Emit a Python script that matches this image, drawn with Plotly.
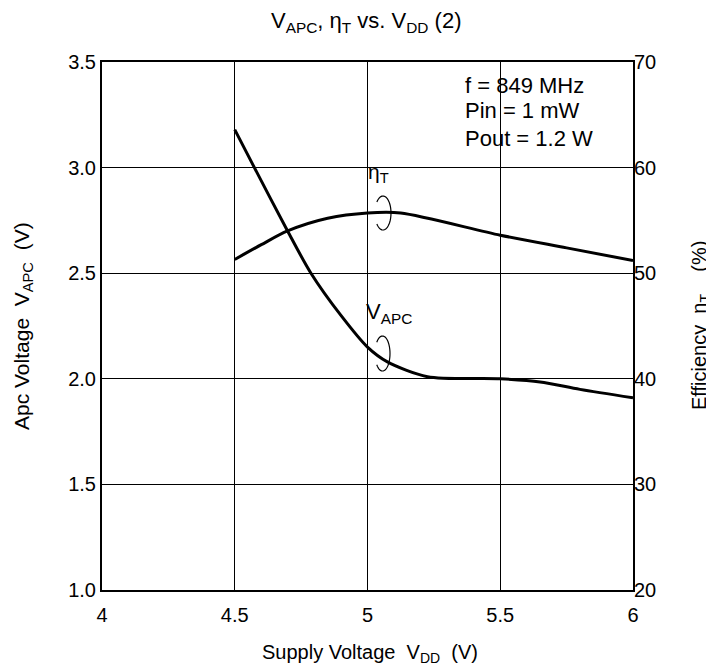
import math
import plotly.graph_objects as go

# ---- data ----
vdd_apc = [4.5, 4.574, 4.699, 4.787, 4.9, 5.0, 5.075, 5.226, 5.5, 5.65, 5.8, 6.0]
v_apc = [3.18, 3.0, 2.70, 2.5, 2.30, 2.15, 2.08, 2.01, 2.0, 1.985, 1.95, 1.91]

vdd_eff = [4.5, 4.6, 4.699, 4.85, 5.0, 5.125, 5.5, 5.75, 6.0]
eff = [51.3, 52.7, 54.0, 55.2, 55.7, 55.7, 53.6, 52.4, 51.2]

x_ticks = [4, 4.5, 5, 5.5, 6]
x_tick_text = ["4", "4.5", "5", "5.5", "6"]
y_ticks = [1.0, 1.5, 2.0, 2.5, 3.0, 3.5]
y_tick_text = ["1.0", "1.5", "2.0", "2.5", "3.0", "3.5"]
y2_ticks = [20, 30, 40, 50, 60, 70]

FONT = "Liberation Sans, Arial, Helvetica, sans-serif"
W, H = 714, 671
L, R, T, B = 94, 89, 54, 89
PW, PH = W - L - R, H - T - B
NB = "\u00a0"


def px(xp):
    return (xp - L) / PW


def py(yp):
    return (H - B - yp) / PH


def arc_path(cx, cy, rx, ry):
    pts = []
    n = 40
    a0, a1 = 140, -140
    for i in range(n + 1):
        a = math.radians(a0 + (a1 - a0) * i / n)
        pts.append((px(cx + rx * math.cos(a)), py(cy - ry * math.sin(a))))
    return "M " + " L ".join(f"{x:.5f},{y:.5f}" for x, y in pts)


fig = go.Figure()
fig.add_trace(go.Scatter(x=vdd_apc, y=v_apc, mode="lines",
                         line=dict(color="black", width=3, shape="spline", smoothing=0.8),
                         showlegend=False, hoverinfo="skip"))
fig.add_trace(go.Scatter(x=vdd_eff, y=eff, mode="lines", yaxis="y2",
                         line=dict(color="black", width=3, shape="spline", smoothing=0.8),
                         showlegend=False, hoverinfo="skip"))

axis_common = dict(showline=True, linecolor="black", linewidth=2, mirror=True,
                   ticks="", zeroline=False,
                   tickfont=dict(family=FONT, size=20, color="black"))

fig.update_layout(
    width=W, height=H,
    margin=dict(l=L, r=R, t=T, b=B),
    paper_bgcolor="white", plot_bgcolor="white",
    font=dict(family=FONT, color="black"),
    xaxis=dict(range=[4, 6], tickvals=x_ticks, ticktext=x_tick_text,
               showgrid=True, gridcolor="black", gridwidth=1.4,
               ticklabelstandoff=6, **axis_common),
    yaxis=dict(range=[1.0, 3.5], tickvals=y_ticks, ticktext=y_tick_text,
               showgrid=True, gridcolor="black", gridwidth=1.4, **axis_common),
    yaxis2=dict(range=[20, 70], tickvals=y2_ticks, overlaying="y", side="right",
                showgrid=False, showline=False, ticks="", zeroline=False,
                tickfont=dict(family=FONT, size=20, color="black")),
)

ann = []
ann.append(dict(text=f"V<sub>APC</sub>,{NB}η<sub>T</sub>{NB}vs.{NB}V<sub>DD</sub>{NB}(2)",
                x=px(358), y=py(14), xref="paper", yref="paper",
                xanchor="center", yanchor="middle", showarrow=False,
                font=dict(family=FONT, size=22)))
ann.append(dict(text=f"Supply Voltage{NB} V<sub>DD</sub>{NB} (V)",
                x=px(362), y=py(645), xref="paper", yref="paper",
                xanchor="center", yanchor="middle", showarrow=False,
                font=dict(family=FONT, size=20)))
ann.append(dict(text=f"Apc Voltage{NB} V<sub>APC</sub>{NB} (V)",
                x=px(15), y=py(318), xref="paper", yref="paper", textangle=-90,
                xanchor="center", yanchor="middle", showarrow=False,
                font=dict(family=FONT, size=21)))
ann.append(dict(text=f"Efficiency{NB} η<sub>T</sub>{NB}{NB}{NB} (%)",
                x=px(692), y=py(318), xref="paper", yref="paper", textangle=-90,
                xanchor="center", yanchor="middle", showarrow=False,
                font=dict(family=FONT, size=20)))
for txt, yy in [(f"f{NB}={NB}849 MHz", 77), (f"Pin{NB}={NB}1 mW", 103),
                (f"Pout{NB}={NB}1.2 W", 130)]:
    ann.append(dict(text=txt, x=px(455), y=py(yy), xref="paper", yref="paper",
                    xanchor="left", yanchor="middle", showarrow=False,
                    font=dict(family=FONT, size=22)))
ann.append(dict(text="η<sub>T</sub>", x=px(358), y=py(165), xref="paper", yref="paper",
                xanchor="left", yanchor="middle", showarrow=False,
                font=dict(family=FONT, size=21)))
ann.append(dict(text="V<sub>APC</sub>", x=px(356), y=py(305), xref="paper", yref="paper",
                xanchor="left", yanchor="middle", showarrow=False,
                font=dict(family=FONT, size=22)))
fig.update_layout(annotations=ann)

shapes = [
    dict(type="path", xref="paper", yref="paper", path=arc_path(375, 205, 8, 17),
         line=dict(color="black", width=1.2)),
    dict(type="path", xref="paper", yref="paper", path=arc_path(374.5, 345.5, 7.5, 17.5),
         line=dict(color="black", width=1.2)),
]
fig.update_layout(shapes=shapes)

fig.write_html("out.html")
